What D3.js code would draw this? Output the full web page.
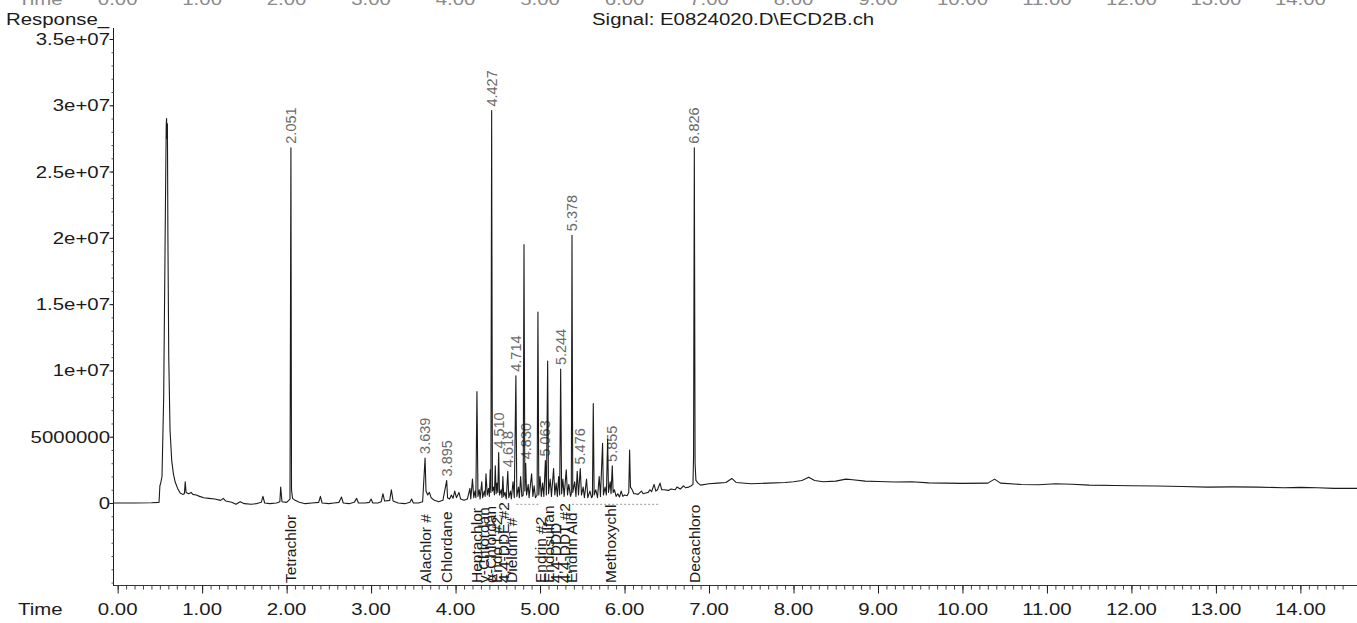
<!DOCTYPE html>
<html>
<head>
<meta charset="utf-8">
<script src="https://cdn.jsdelivr.net/npm/d3@7"></script>
<style>
  html, body { margin: 0; padding: 0; background: #fff; }
  svg { display: block; font-family: "Liberation Sans", Arial, sans-serif; }
</style>
</head>
<body>
<svg id="chart" width="1357" height="623"></svg>
<script>
// ECD signal, points as [retention time (min), response (x 1e6 counts)]
const solventFront = [
  [-0.055, 0.0], [0.20, 0.0], [0.40, 0.02], [0.49, 0.05], [0.50, 1.3], [0.51, 1.5],
  [0.525, 2.0], [0.545, 8.0], [0.565, 22.0], [0.575, 28.5], [0.579, 29.0], [0.585, 27.5],
  [0.589, 28.6], [0.595, 20.0], [0.605, 11.0], [0.62, 5.5], [0.64, 3.2], [0.66, 2.2],
  [0.68, 1.6], [0.71, 1.1], [0.74, 0.75], [0.77, 0.65], [0.79, 0.7], [0.80, 1.6],
  [0.81, 0.8], [0.84, 0.7], [0.87, 0.8], [0.89, 0.65], [0.93, 0.6], [0.97, 0.5]
];

const earlyTrace = [
  [1.02, 0.4], [1.08, 0.35], [1.15, 0.3], [1.22, 0.2], [1.25, 0.35], [1.28, 0.15],
  [1.35, 0.05], [1.40, -0.1], [1.45, 0.1], [1.50, -0.05], [1.58, -0.1], [1.64, -0.05],
  [1.70, 0.05], [1.72, 0.5], [1.74, 0.0], [1.80, -0.05], [1.88, 0.0], [1.92, 0.1],
  [1.93, 1.2], [1.945, 0.1], [2.00, 0.05], [2.04, 0.3], [2.051, 26.8], [2.058, 1.0],
  [2.07, 0.35], [2.10, 0.2], [2.15, 0.05], [2.22, -0.05], [2.30, 0.0], [2.38, 0.05],
  [2.40, 0.5], [2.42, 0.0], [2.50, -0.05], [2.56, 0.0], [2.62, 0.05], [2.65, 0.45],
  [2.67, 0.0], [2.74, -0.05], [2.80, 0.05], [2.83, 0.35], [2.85, 0.0], [2.93, 0.0],
  [2.98, 0.05], [3.00, 0.3], [3.02, 0.0], [3.08, 0.0], [3.12, 0.1], [3.14, 0.7],
  [3.16, 0.15], [3.22, 0.2], [3.24, 1.0], [3.26, 0.15], [3.32, 0.0], [3.40, -0.05],
  [3.46, 0.05], [3.48, 0.3], [3.50, 0.0], [3.56, 0.0], [3.61, 0.1], [3.639, 3.4],
  [3.65, 0.9], [3.67, 0.6], [3.69, 0.8], [3.71, 0.4], [3.75, 0.2], [3.80, 0.1],
  [3.85, 0.2], [3.895, 1.7], [3.905, 0.4], [3.93, 0.3], [3.95, 0.6], [3.97, 0.35],
  [3.99, 0.9], [4.01, 0.4], [4.04, 0.8], [4.06, 0.3], [4.10, 0.2]
];

const pesticideCluster = [
  [4.14, 0.3], [4.17, 1.1], [4.18, 0.3], [4.20, 1.8], [4.215, 0.4], [4.23, 0.9],
  [4.24, 0.4], [4.253, 8.4], [4.265, 0.5], [4.28, 1.0], [4.29, 0.3], [4.31, 1.6],
  [4.32, 0.4], [4.34, 0.9], [4.35, 0.5], [4.36, 2.2], [4.375, 0.6], [4.39, 1.1],
  [4.40, 0.5], [4.41, 2.5], [4.418, 0.8], [4.427, 29.6], [4.436, 0.9], [4.45, 1.2],
  [4.46, 0.6], [4.47, 2.8], [4.48, 0.7], [4.49, 1.5], [4.50, 0.8], [4.51, 3.8],
  [4.52, 0.6], [4.54, 1.0], [4.55, 0.4], [4.56, 2.0], [4.57, 0.5], [4.585, 0.8],
  [4.60, 0.3], [4.618, 2.4], [4.63, 0.4], [4.65, 0.9], [4.66, 0.3], [4.68, 1.6],
  [4.695, 0.4], [4.714, 9.6], [4.725, 0.5], [4.745, 1.2], [4.755, 0.4], [4.77, 2.0],
  [4.785, 0.5], [4.80, 0.6], [4.81, 19.5], [4.82, 0.9], [4.83, 3.0], [4.84, 0.6],
  [4.86, 1.4], [4.87, 0.4], [4.90, 2.2], [4.915, 0.5], [4.93, 1.3], [4.945, 0.4],
  [4.965, 0.6], [4.975, 14.4], [4.985, 0.6], [5.00, 2.0], [5.015, 0.5], [5.03, 1.5],
  [5.045, 0.5], [5.063, 3.2], [5.075, 0.6], [5.09, 10.7], [5.10, 0.7], [5.12, 1.8],
  [5.135, 0.5], [5.16, 2.6], [5.175, 0.6], [5.19, 1.5], [5.205, 0.5], [5.22, 2.0],
  [5.232, 0.6], [5.244, 10.1], [5.255, 0.7], [5.27, 1.8], [5.285, 0.5], [5.31, 2.5],
  [5.325, 0.6], [5.34, 1.4], [5.36, 0.5], [5.37, 0.7], [5.378, 20.2], [5.387, 0.8],
  [5.41, 1.6], [5.425, 0.5], [5.44, 2.4], [5.455, 0.6], [5.476, 2.6], [5.49, 0.6],
  [5.51, 1.2], [5.525, 0.4], [5.55, 1.8], [5.565, 0.4], [5.59, 0.9], [5.61, 0.4],
  [5.62, 0.5], [5.63, 7.5], [5.64, 0.6], [5.66, 1.0], [5.68, 0.4], [5.70, 2.0],
  [5.715, 0.5], [5.74, 4.5], [5.75, 0.6], [5.77, 1.2], [5.785, 0.6], [5.80, 4.8],
  [5.81, 0.8], [5.83, 1.6], [5.84, 0.7], [5.855, 2.8], [5.865, 0.8], [5.88, 1.0],
  [5.90, 0.5], [5.92, 0.7], [5.94, 0.45], [5.96, 0.9], [5.98, 0.5], [6.00, 0.6],
  [6.03, 0.55], [6.05, 0.8], [6.06, 4.0], [6.07, 1.2], [6.09, 1.0], [6.11, 0.7],
  [6.13, 0.7], [6.16, 0.65], [6.20, 0.9], [6.22, 0.7], [6.25, 0.75], [6.28, 0.8],
  [6.30, 1.0], [6.32, 0.85], [6.35, 1.4], [6.37, 0.9], [6.39, 1.0], [6.42, 1.5],
  [6.44, 1.0], [6.47, 1.0], [6.52, 0.95], [6.55, 1.05], [6.60, 1.0], [6.62, 1.2],
  [6.66, 1.05], [6.70, 1.3], [6.72, 1.15], [6.76, 1.2], [6.79, 1.3], [6.81, 1.4],
  [6.817, 3.5], [6.826, 26.8], [6.835, 3.0], [6.845, 1.7], [6.87, 1.5], [6.90, 1.35]
];

const lateTrace = [
  [7.00, 1.45], [7.10, 1.5], [7.20, 1.55], [7.27, 1.85], [7.32, 1.55], [7.50, 1.45],
  [7.70, 1.5], [7.90, 1.55], [8.00, 1.6], [8.10, 1.7], [8.18, 1.95], [8.25, 1.7],
  [8.35, 1.6], [8.50, 1.65], [8.62, 1.8], [8.70, 1.75], [8.85, 1.65], [9.00, 1.62],
  [9.20, 1.58], [9.40, 1.6], [9.60, 1.52], [9.80, 1.5], [10.00, 1.48], [10.30, 1.5],
  [10.38, 1.8], [10.45, 1.5], [10.70, 1.4], [10.90, 1.38], [11.10, 1.45], [11.30, 1.42],
  [11.50, 1.35], [11.80, 1.32], [12.00, 1.3], [12.30, 1.28], [12.60, 1.24], [12.90, 1.2],
  [13.20, 1.22], [13.50, 1.2], [13.80, 1.15], [14.00, 1.18], [14.20, 1.15], [14.40, 1.1],
  [14.67, 1.1]
];

// Integrated peaks: retention times printed above the peaks
const retentionTimes = [2.051, 3.639, 3.895, 4.427, 4.510, 4.618, 4.714, 4.830,
                        5.063, 5.244, 5.378, 5.476, 5.855, 6.826];

// Compound names printed along the time axis
const compoundNames = ["Tetrachlor", "Alachlor #", "Chlordane", "Heptachlor", "γ-Chlordan",
  "α-Chlordan", "Endo I #2", "4,4-DDE #2", "Dieldrin #", "Endrin #2", "Endosulfan",
  "4,4-DDD", "4,4-DDT #2", "Endrin Ald", "Methoxychl", "Decachloro"];
const compoundTimes = [2.051, 3.639, 3.895, 4.253, 4.33, 4.41, 4.49, 4.57, 4.66,
  5.00, 5.10, 5.18, 5.29, 5.37, 5.83, 6.826];

// Integration baseline segments [start, end] (min)
const integrationBaselines = [[4.72, 4.98], [5.38, 6.40]];

// Axis ticks
const yTickValues = [0, 5, 10, 15, 20, 25, 30, 35];
const yTickLabels = ["0", "5000000", "1e+07", "1.5e+07", "2e+07", "2.5e+07", "3e+07", "3.5e+07"];
const xTickValues = [0, 1, 2, 3, 4, 5, 6, 7, 8, 9, 10, 11, 12, 13, 14];
const xTickLabels = ["0.00", "1.00", "2.00", "3.00", "4.00", "5.00", "6.00", "7.00",
  "8.00", "9.00", "10.00", "11.00", "12.00", "13.00", "14.00"];
const signalName = "Signal: E0824020.D\\ECD2B.ch";

// ---------------------------------------------------------------------------
const svg = d3.select("#chart");
const STRETCH = 1.2;           // printed fonts are set wide
const INK = "#1b1b1b";

const x = d3.scaleLinear().domain([-0.055, 14.67]).range([113, 1357]);
const y = d3.scaleLinear().domain([0, 35]).range([503, 39]);
const axisY = 585;             // time axis line
const axisTop = 28;

svg.append("rect").attr("width", 1357).attr("height", 623).attr("fill", "#fff");

function hText(g, px, py, str, anchor, size, fill) {
  return g.append("text")
    .attr("transform", `translate(${px},${py}) scale(${STRETCH},1)`)
    .attr("text-anchor", anchor)
    .attr("font-size", size)
    .attr("fill", fill)
    .text(str);
}

const labels = svg.append("g");

// Header texts
hText(labels, 6, 25, "Response_", "start", 17, INK);
hText(labels, 592, 25, signalName, "start", 17, INK);

// Time labels of the panel above, cut off at the page top
const topRow = svg.append("g");
hText(topRow, 18, 5, "Time", "start", 17, "#8a8a8a");
xTickValues.forEach((t, i) => hText(topRow, x(t), 5, xTickLabels[i], "middle", 17, "#8a8a8a"));

// Y axis
svg.append("line").attr("x1", 113.5).attr("x2", 113.5)
  .attr("y1", axisTop).attr("y2", axisY).attr("stroke", INK).attr("stroke-width", 1);

const yMinor = d3.range(-6, 36, 1);
svg.append("g").attr("transform", "translate(113.5,0)")
  .call(d3.axisLeft(y).tickValues(yMinor).tickSize(2).tickFormat(""))
  .call(g => g.select(".domain").remove())
  .selectAll("line").attr("stroke", "#555");
svg.append("g").attr("transform", "translate(113.5,0)")
  .call(d3.axisLeft(y).tickValues(yTickValues).tickSize(4).tickFormat(""))
  .call(g => g.select(".domain").remove())
  .selectAll("line").attr("stroke", INK);

yTickValues.forEach((v, i) => hText(labels, 110, y(v) + 6, yTickLabels[i], "end", 17, INK));

// Time axis
svg.append("line").attr("x1", 113).attr("x2", 1357)
  .attr("y1", axisY + 0.5).attr("y2", axisY + 0.5).attr("stroke", "#333").attr("stroke-width", 1);

const xMinor = d3.range(0, 146).map(k => k / 10);
svg.append("g").attr("transform", `translate(0,${axisY + 0.5})`)
  .call(d3.axisBottom(x).tickValues(xMinor).tickSize(4).tickFormat(""))
  .call(g => g.select(".domain").remove())
  .selectAll("line").attr("stroke", "#444");
svg.append("g").attr("transform", `translate(0,${axisY + 0.5})`)
  .call(d3.axisBottom(x).tickValues(xTickValues).tickSize(8).tickFormat(""))
  .call(g => g.select(".domain").remove())
  .selectAll("line").attr("stroke", INK);

hText(labels, 18, 615, "Time", "start", 17, INK);
xTickValues.forEach((t, i) => hText(labels, x(t), 615, xTickLabels[i], "middle", 17, INK));

// Integration baselines
svg.append("g").selectAll("line").data(integrationBaselines).join("line")
  .attr("x1", d => x(d[0])).attr("x2", d => x(d[1]))
  .attr("y1", y(-0.1)).attr("y2", y(-0.1))
  .attr("stroke", "#9a9a9a").attr("stroke-width", 1).attr("stroke-dasharray", "2,2");

// Signal trace
const trace = solventFront.concat(earlyTrace, pesticideCluster, lateTrace);
const line = d3.line().x(d => x(d[0])).y(d => y(d[1]));
svg.append("path").datum(trace)
  .attr("d", line)
  .attr("fill", "none")
  .attr("stroke", INK)
  .attr("stroke-width", 1.1)
  .attr("stroke-linejoin", "round");

// Retention time annotations above the peaks
const fmt = d3.format(".3f");
retentionTimes.forEach(rt => {
  const pt = trace.find(d => Math.abs(d[0] - rt) < 1e-6);
  labels.append("text")
    .attr("transform", `translate(${x(rt) + 5},${y(pt[1]) - 4}) rotate(-90)`)
    .attr("text-anchor", "start")
    .attr("font-size", 14.5)
    .attr("fill", "#6a6a6a")
    .text(fmt(rt));
});

// Compound names standing on the time axis
compoundNames.forEach((name, i) => {
  labels.append("text")
    .attr("transform", `translate(${x(compoundTimes[i]) + 5.5},${axisY - 2}) rotate(-90)`)
    .attr("text-anchor", "start")
    .attr("font-size", 15.5)
    .attr("fill", INK)
    .text(name);
});
</script>
</body>
</html>
